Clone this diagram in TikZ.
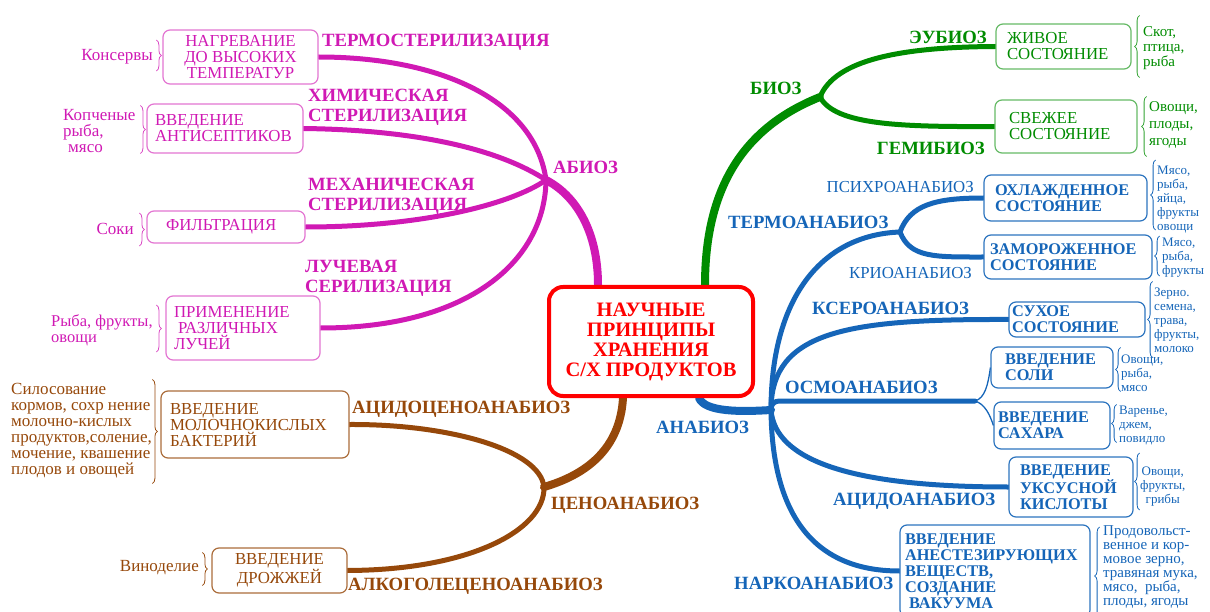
\documentclass[tikz,border=0pt]{standalone}
\usepackage{fontspec}
\setmainfont{Liberation Serif}
\usetikzlibrary{decorations.pathreplacing, calc, backgrounds}

\definecolor{abiocol}{RGB}{208, 25, 180}
\definecolor{cenocol}{RGB}{150, 72, 10}
\definecolor{biocol}{RGB}{0, 140, 0}
\definecolor{anacol}{RGB}{21, 101, 184}

\newcommand{\lblfont}{\bfseries\fontsize{18.7}{20}\selectfont}
\newcommand{\corefont}{\bfseries\fontsize{20.5}{20}\selectfont}
\newcommand{\boxfont}{\fontsize{16.8}{16}\selectfont}
\newcommand{\anaboxfont}{\bfseries\fontsize{16.3}{16}\selectfont}
\newcommand{\notefont}{\fontsize{17}{16}\selectfont}
\newcommand{\smallnotefont}{\fontsize{13}{14}\selectfont}

\begin{document}
\begin{tikzpicture}[x = 1pt, y = -1pt,
    branch/.style = {line width = 5pt, line cap = round},
    trunk/.style = {line width = 8pt, line cap = round},
    twig/.style = {line width = 1.3pt},
    card/.style = {draw, fill = white, rounded corners = 7pt, line width = 1.2pt, inner sep = 0pt},
    abiocard/.style = {card, draw = abiocol!60, text = abiocol, font = \boxfont},
    cenocard/.style = {card, draw = cenocol!80, text = cenocol, font = \boxfont},
    biocard/.style = {card, draw = biocol!60, text = biocol, font = \boxfont, align = left},
    anacard/.style = {card, draw = anacol!90, text = anacol, font = \anaboxfont, align = left},
    lbl/.style = {font = \lblfont, inner sep = 0pt, align = left},
    thinlbl/.style = {font = \boxfont, inner sep = 0pt},
    notetext/.style = {font = \notefont, inner sep = 0pt, align = left},
    smallnote/.style = {font = \smallnotefont, inner sep = 0pt, align = left},
    notebrace/.style = {decorate, decoration = {brace, amplitude = 5pt}, line width = 0.8pt}]

    \useasboundingbox (0, 0) rectangle (1210, 612);

    \coordinate (abio) at (546, 180);
    \coordinate (ceno) at (544, 487);
    \coordinate (bio) at (820, 97);
    \coordinate (ana) at (771, 410);
    \coordinate (termo) at (900, 232);
    \coordinate (osmo) at (975, 401);

    \node[card, draw = red, line width = 4pt, rounded corners = 14pt, text = red, font = \corefont, minimum width = 204pt, minimum height = 109pt, align = center] (core) at (651, 341.5) {НАУЧНЫЕ\\ПРИНЦИПЫ\\ХРАНЕНИЯ\\С/Х ПРОДУКТОВ};

    \node[abiocard, minimum width = 155pt, minimum height = 54pt, align = center] (heat) at (240.5, 57) {НАГРЕВАНИЕ\\ДО ВЫСОКИХ\\ТЕМПЕРАТУР};
    \node[abiocard, minimum width = 156pt, minimum height = 49pt, text width = 140pt, align = left] (anti) at (225, 128.5) {ВВЕДЕНИЕ\\АНТИСЕПТИКОВ};
    \node[abiocard, minimum width = 158pt, minimum height = 32pt, text width = 120pt, align = left] (filt) at (226, 227) {ФИЛЬТРАЦИЯ};
    \node[abiocard, minimum width = 154pt, minimum height = 64pt, text width = 138pt, align = left] (rays) at (243, 328) {ПРИМЕНЕНИЕ\\\hspace*{4pt}РАЗЛИЧНЫХ\\ЛУЧЕЙ};

    \node[cenocard, minimum width = 188pt, minimum height = 67pt, text width = 170pt, align = left] (lact) at (255, 424.5) {ВВЕДЕНИЕ\\МОЛОЧНОКИСЛЫХ\\БАКТЕРИЙ};
    \node[cenocard, minimum width = 135pt, minimum height = 45pt, align = center] (yeast) at (279.5, 570.5) {ВВЕДЕНИЕ\\ДРОЖЖЕЙ};

    \node[biocard, minimum width = 135pt, minimum height = 45pt, text width = 113pt] (live) at (1063.5, 46.5) {ЖИВОЕ\\СОСТОЯНИЕ};
    \node[biocard, minimum width = 142pt, minimum height = 53pt, text width = 114pt] (fresh) at (1066, 126.5) {СВЕЖЕЕ\\СОСТОЯНИЕ};

    \node[anacard, minimum width = 163pt, minimum height = 46pt, text width = 141pt] (chill) at (1065.5, 198) {ОХЛАЖДЕННОЕ\\СОСТОЯНИЕ};
    \node[anacard, minimum width = 168pt, minimum height = 44pt, text width = 156pt] (frozen) at (1068, 257) {ЗАМОРОЖЕННОЕ\\СОСТОЯНИЕ};
    \node[anacard, minimum width = 136pt, minimum height = 35pt, text width = 130pt] (dry) at (1077, 319.5) {СУХОЕ\\СОСТОЯНИЕ};
    \node[anacard, minimum width = 122pt, minimum height = 41pt, text width = 94pt] (salt) at (1052, 367.5) {ВВЕДЕНИЕ\\СОЛИ};
    \node[anacard, minimum width = 116pt, minimum height = 47pt, text width = 108pt] (sugar) at (1052, 425.5) {ВВЕДЕНИЕ\\САХАРА};
    \node[anacard, minimum width = 124pt, minimum height = 60pt, text width = 102pt] (acid) at (1071, 487) {ВВЕДЕНИЕ\\УКСУСНОЙ\\КИСЛОТЫ};
    \node[anacard, minimum width = 190pt, minimum height = 92pt, text width = 180pt] (narc) at (995, 571) {ВВЕДЕНИЕ\\АНЕСТЕЗИРУЮЩИХ\\ВЕЩЕСТВ,\\СОЗДАНИЕ\\\hspace*{4pt}ВАКУУМА};

    \begin{scope}[on background layer]
        \draw[trunk, abiocol] ([xshift = -53pt]core.north) .. controls (598, 230) and (575, 195) .. (abio);
        \draw[branch, abiocol] (abio) .. controls (535, 100) and (440, 57) .. (heat.east);
        \draw[branch, abiocol] (abio) .. controls (500, 150) and (420, 130) .. (anti.east);
        \draw[branch, abiocol] (abio) .. controls (510, 205) and (420, 227) .. (filt.east);
        \draw[branch, abiocol] (abio) .. controls (545, 260) and (470, 328) .. (rays.east);

        \draw[trunk, cenocol] ([xshift = -28pt]core.south) .. controls (620, 450) and (585, 475) .. (ceno);
        \draw[branch, cenocol] (ceno) .. controls (540, 450) and (450, 424) .. (lact.east);
        \draw[branch, cenocol] (ceno) .. controls (545, 530) and (470, 570) .. (yeast.east);

        \draw[trunk, biocol] ([xshift = 54pt]core.north) .. controls (705, 180) and (750, 125) .. (bio);
        \draw[branch, biocol] (bio) .. controls (835, 60) and (900, 47) .. (live.west);
        \draw[branch, biocol] (bio) .. controls (835, 125) and (900, 127) .. (fresh.west);

        \draw[trunk, anacol] ([xshift = 48pt]core.south) .. controls (705, 412) and (740, 412) .. (ana);
        \draw[branch, anacol] (ana) .. controls (771, 300) and (820, 235) .. (termo);
        \draw[branch, anacol] (termo) .. controls (910, 205) and (935, 198) .. (chill.west);
        \draw[branch, anacol] (termo) .. controls (910, 258) and (935, 257) .. (frozen.west);
        \draw[branch, anacol] (ana) .. controls (771, 330) and (850, 319) .. (dry.west);
        \draw[branch, anacol, rounded corners = 8pt] (ana) |- (osmo);
        \draw[twig, anacol] (osmo) .. controls (985, 398) and (988, 385) .. (salt.west);
        \draw[twig, anacol] (osmo) .. controls (985, 404) and (990, 415) .. (sugar.west);
        \draw[branch, anacol] (ana) .. controls (775, 460) and (850, 487) .. (acid.west);
        \draw[branch, anacol] (ana) .. controls (772, 510) and (810, 571) .. (narc.west);
    \end{scope}

    \node[lbl, abiocol, anchor = west] (thermolbl) at (322, 42) {ТЕРМОСТЕРИЛИЗАЦИЯ};
    \node[lbl, abiocol, anchor = west] (chemlbl) at (308, 107) {ХИМИЧЕСКАЯ\\СТЕРИЛИЗАЦИЯ};
    \node[lbl, abiocol, anchor = west] (abiolbl) at (553, 167) {АБИОЗ};
    \node[lbl, abiocol, anchor = west] (mechlbl) at (308, 196) {МЕХАНИЧЕСКАЯ\\СТЕРИЛИЗАЦИЯ};
    \node[lbl, abiocol, anchor = west] (raylbl) at (305, 278) {ЛУЧЕВАЯ\\СЕРИЛИЗАЦИЯ};

    \node[lbl, cenocol, anchor = west] (acidcenolbl) at (352, 409) {АЦИДОЦЕНОАНАБИОЗ};
    \node[lbl, cenocol, anchor = west] (cenolbl) at (551, 505) {ЦЕНОАНАБИОЗ};
    \node[lbl, cenocol, anchor = west] (alcolbl) at (348, 586) {АЛКОГОЛЕЦЕНОАНАБИОЗ};

    \node[lbl, biocol, anchor = west] (biolbl) at (750, 88) {БИОЗ};
    \node[lbl, biocol, anchor = east] (eulbl) at (987, 37) {ЭУБИОЗ};
    \node[lbl, biocol, anchor = east] (hemilbl) at (985, 148) {ГЕМИБИОЗ};

    \node[lbl, anacol, anchor = west] (termolbl) at (728, 222) {ТЕРМОАНАБИОЗ};
    \node[thinlbl, anacol, anchor = east] (psychlbl) at (974, 187) {ПСИХРОАНАБИОЗ};
    \node[thinlbl, anacol, anchor = east] (cryolbl) at (972, 273) {КРИОАНАБИОЗ};
    \node[lbl, anacol, anchor = west] (xerolbl) at (812, 308) {КСЕРОАНАБИОЗ};
    \node[lbl, anacol, anchor = west] (osmolbl) at (785, 387) {ОСМОАНАБИОЗ};
    \node[lbl, anacol, anchor = west] (analbl) at (656, 427) {АНАБИОЗ};
    \node[lbl, anacol, anchor = west] (acidlbl) at (833, 501) {АЦИДОАНАБИОЗ};
    \node[lbl, anacol, anchor = west] (narclbl) at (734, 583) {НАРКОАНАБИОЗ};

    \node[notetext, abiocol, anchor = east] (cansnote) at (153, 57) {Консервы};
    \node[notetext, abiocol, anchor = west] (smokenote) at (63, 131) {Копченые\\рыба,\\\hspace*{5pt}мясо};
    \node[notetext, abiocol, anchor = east] (juicenote) at (134, 229) {Соки};
    \node[notetext, abiocol, anchor = west, font = \fontsize{16.5}{16}\selectfont] (raynote) at (51, 330) {Рыба, фрукты,\\овощи};
    \draw[notebrace, abiocol!80] ([shift = {(-6, -17)}]heat.west) -- ([shift = {(-6, 14)}]heat.west);
    \draw[notebrace, abiocol!80] ([shift = {(-6, -23)}]anti.west) -- ([shift = {(-6, 25)}]anti.west);
    \draw[notebrace, abiocol!80] ([shift = {(-7, -14)}]filt.west) -- ([shift = {(-7, 19)}]filt.west);
    \draw[notebrace, abiocol!80] ([shift = {(-9, -23)}]rays.west) -- ([shift = {(-9, 24)}]rays.west);

    \node[notetext, cenocol, anchor = west] (silonote) at (11, 431) {Силосование\\кормов, сохр нение\\молочно-кислых\\продуктов,соление,\\мочение, квашение\\плодов и овощей};
    \node[notetext, cenocol, anchor = east] (winenote) at (199, 568) {Виноделие};
    \draw[notebrace, cenocol] ([shift = {(-8, -45)}]lact.west) -- ([shift = {(-8, 59)}]lact.west);
    \draw[notebrace, cenocol] ([shift = {(-9, -18)}]yeast.west) -- ([shift = {(-9, 15)}]yeast.west);

    \node[notetext, biocol, anchor = west, font = \fontsize{15}{15}\selectfont] (stocknote) at (1143, 48) {Скот,\\птица,\\рыба};
    \node[notetext, biocol, anchor = west, font = \fontsize{15}{17}\selectfont] (vegnote) at (1149, 125) {Овощи,\\плоды,\\ягоды};
    \draw[notebrace, biocol!80] ([shift = {(8, 31)}]live.east) -- ([shift = {(8, -31)}]live.east);
    \draw[notebrace, biocol!80] ([shift = {(9, 30)}]fresh.east) -- ([shift = {(9, -30)}]fresh.east);

    \node[smallnote, anacol, anchor = west] (chillnote) at (1157, 200) {Мясо,\\рыба,\\яйца,\\фрукты\\овощи};
    \node[smallnote, anacol, anchor = west] (frozennote) at (1162, 258) {Мясо,\\рыба,\\фрукты};
    \node[smallnote, anacol, anchor = west] (drynote) at (1154, 320) {Зерно.\\семена,\\трава,\\фрукты,\\молоко};
    \node[smallnote, anacol, anchor = west] (saltnote) at (1121, 373) {Овощи,\\рыба,\\мясо};
    \node[smallnote, anacol, anchor = west] (sugarnote) at (1119, 425) {Варенье,\\джем,\\повидло};
    \node[smallnote, anacol, anchor = west, align = center] (acidnote) at (1140, 487) {Овощи,\\фрукты,\\грибы};
    \node[smallnote, anacol, anchor = west, font = \fontsize{15}{14}\selectfont] (narcnote) at (1103, 567) {Продовольст-\\венное и кор-\\мовое зерно,\\травяная мука,\\мясо,\ \ рыба,\\плоды, ягоды};
    \draw[notebrace, anacol] ([shift = {(8, 32)}]chill.east) -- ([shift = {(8, -38)}]chill.east);
    \draw[notebrace, anacol] ([shift = {(7, 19)}]frozen.east) -- ([shift = {(7, -21)}]frozen.east);
    \draw[notebrace, anacol] ([shift = {(7, 38)}]dry.east) -- ([shift = {(7, -38)}]dry.east);
    \draw[notebrace, anacol] ([shift = {(7, 24)}]salt.east) -- ([shift = {(7, -20)}]salt.east);
    \draw[notebrace, anacol] ([shift = {(6, 17)}]sugar.east) -- ([shift = {(6, -21)}]sugar.east);
    \draw[notebrace, anacol] ([shift = {(6, 23)}]acid.east) -- ([shift = {(6, -34)}]acid.east);
    \draw[notebrace, anacol] ([shift = {(9, 54)}]narc.east) -- ([shift = {(9, -44)}]narc.east);
\end{tikzpicture}
\end{document}
